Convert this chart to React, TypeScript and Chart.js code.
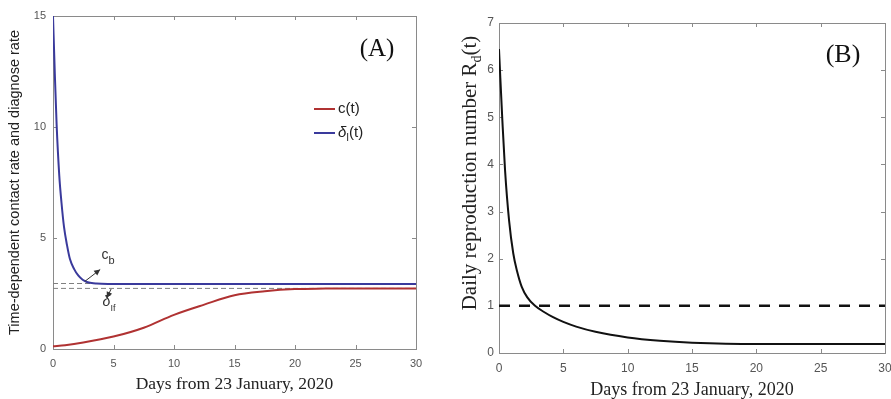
import React, { useEffect, useRef } from 'react';
import { Chart, registerables } from 'chart.js';

Chart.register(...registerables);

// ---------- data ----------
const DAY_MIN = 0;
const DAY_MAX = 30;
const DAY_STEP = 5;

// Panel A: diagnose rate delta_I(t)
const A_BLUE_T = [0, 0.15, 0.3, 0.52, 0.7, 0.91, 1.15, 1.4, 1.75, 2.1, 2.45, 2.8, 3.2, 3.6, 4, 5, 7, 10, 15, 20, 25, 30];
const A_BLUE = [15.0, 12.4, 10.1, 7.8, 6.6, 5.5, 4.7, 4.05, 3.6, 3.3, 3.12, 3.02, 2.97, 2.95, 2.94, 2.93, 2.93, 2.93, 2.93, 2.93, 2.93, 2.93];
// Panel A: contact rate c(t)
const A_RED_T = [0, 1, 2.5, 5, 7.5, 10, 12.5, 15, 17.5, 20, 22.5, 25, 30];
const A_RED = [0.12, 0.17, 0.29, 0.56, 0.96, 1.54, 2.0, 2.42, 2.6, 2.7, 2.72, 2.73, 2.73];
// Panel A: reference levels c_b and delta_If
const A_CB_LEVEL = 2.95;
const A_DIF_LEVEL = 2.73;
const A_Y_MAX = 15;
const A_Y_STEP = 5;

// Panel B: daily reproduction number R_d(t)
const B_T = [0, 0.1, 0.26, 0.47, 0.78, 1.11, 1.4, 1.76, 2.2, 2.8, 3.5, 4.2, 5, 6, 7.5, 10, 12.5, 15, 20, 25, 30];
const B_RD = [6.45, 5.85, 4.94, 3.88, 2.82, 2.11, 1.74, 1.41, 1.18, 1.0, 0.87, 0.76, 0.66, 0.56, 0.45, 0.33, 0.26, 0.22, 0.19, 0.19, 0.19];
const B_THRESHOLD = 1;
const B_Y_MAX = 7;
const B_Y_STEP = 1;

const X_TITLE = 'Days from 23 January, 2020';
const A_Y_TITLE = 'Time-dependent contact rate and diagnose rate';

// ---------- styles ----------
const SANS = '"Liberation Sans", Arial, Helvetica, sans-serif';
const SERIF = '"Liberation Serif", "Times New Roman", Times, serif';
const AXIS_COLOR = '#8a8a8a';
const TICK_TEXT = '#555';
const TITLE_TEXT = '#222';
const RED = '#b03232';
const BLUE = '#3a3a9c';

const pts = (xs: number[], ys: number[]) => xs.map((x, i) => ({ x, y: ys[i] }));

type Part = { text: string; font: string; dy?: number };
function drawParts(ctx: CanvasRenderingContext2D, parts: Part[], x: number, y: number, align: 'left' | 'center' = 'left') {
  let total = 0;
  for (const p of parts) {
    ctx.font = p.font;
    total += ctx.measureText(p.text).width;
  }
  let cx = align === 'center' ? x - total / 2 : x;
  ctx.textAlign = 'left';
  ctx.textBaseline = 'middle';
  for (const p of parts) {
    ctx.font = p.font;
    ctx.fillText(p.text, cx, y + (p.dy || 0));
    cx += ctx.measureText(p.text).width;
  }
}

function arrow(ctx: CanvasRenderingContext2D, x1: number, y1: number, x2: number, y2: number) {
  ctx.beginPath();
  ctx.moveTo(x1, y1);
  ctx.lineTo(x2, y2);
  ctx.stroke();
  const ang = Math.atan2(y2 - y1, x2 - x1);
  const L = 6, W = 3;
  ctx.beginPath();
  ctx.moveTo(x2, y2);
  ctx.lineTo(x2 - L * Math.cos(ang) + W * Math.sin(ang), y2 - L * Math.sin(ang) - W * Math.cos(ang));
  ctx.lineTo(x2 - L * Math.cos(ang) - W * Math.sin(ang), y2 - L * Math.sin(ang) + W * Math.cos(ang));
  ctx.closePath();
  ctx.fill();
}

const boxPlugin = {
  id: 'matlabBox',
  beforeDatasetsDraw(chart: any) {
    const { ctx, chartArea: a, scales } = chart;
    ctx.save();
    ctx.strokeStyle = AXIS_COLOR;
    ctx.lineWidth = 1;
    ctx.strokeRect(Math.round(a.left) + 0.5, Math.round(a.top) + 0.5, Math.round(a.right - a.left), Math.round(a.bottom - a.top));
    const L = 4;
    ctx.beginPath();
    for (const t of scales.x.ticks) {
      const px = Math.round(scales.x.getPixelForValue(t.value)) + 0.5;
      ctx.moveTo(px, a.bottom); ctx.lineTo(px, a.bottom - L);
      ctx.moveTo(px, a.top); ctx.lineTo(px, a.top + L);
    }
    for (const t of scales.y.ticks) {
      const py = Math.round(scales.y.getPixelForValue(t.value)) + 0.5;
      ctx.moveTo(a.left, py); ctx.lineTo(a.left + L, py);
      ctx.moveTo(a.right, py); ctx.lineTo(a.right - L, py);
    }
    ctx.stroke();
    ctx.restore();
  },
};

const panelAPlugin = {
  id: 'panelA',
  afterDraw(chart: any) {
    const { ctx, chartArea: a, scales } = chart;
    const X = (v: number) => scales.x.getPixelForValue(v);
    const Y = (v: number) => scales.y.getPixelForValue(v);
    ctx.save();
    ctx.fillStyle = '#111';
    // panel label
    ctx.font = `25px ${SERIF}`;
    ctx.textAlign = 'center';
    ctx.textBaseline = 'middle';
    ctx.fillText('(A)', a.right - 39, a.top + 33);
    // legend
    const lx = a.left + 261, ly1 = a.top + 93, ly2 = a.top + 117;
    ctx.lineWidth = 2;
    ctx.strokeStyle = RED;
    ctx.beginPath(); ctx.moveTo(lx, ly1); ctx.lineTo(lx + 21, ly1); ctx.stroke();
    ctx.strokeStyle = BLUE;
    ctx.beginPath(); ctx.moveTo(lx, ly2); ctx.lineTo(lx + 21, ly2); ctx.stroke();
    ctx.fillStyle = '#222';
    drawParts(ctx, [{ text: 'c(t)', font: `15px ${SANS}` }], lx + 24, ly1);
    drawParts(ctx, [
      { text: 'δ', font: `italic 15px ${SANS}` },
      { text: 'I', font: `10px ${SANS}`, dy: 5 },
      { text: '(t)', font: `15px ${SANS}` },
    ], lx + 24, ly2);
    // annotations
    ctx.strokeStyle = '#333';
    ctx.fillStyle = '#333';
    ctx.lineWidth = 1;
    arrow(ctx, X(2.64), Y(3.05), X(3.9), Y(3.58));
    drawParts(ctx, [
      { text: 'c', font: `14px ${SANS}` },
      { text: 'b', font: `11px ${SANS}`, dy: 6 },
    ], X(4.0), Y(4.25));
    arrow(ctx, X(4.8), Y(2.7), X(4.45), Y(2.3));
    drawParts(ctx, [
      { text: 'δ', font: `italic 14px ${SANS}` },
      { text: 'If', font: `9px ${SANS}`, dy: 6 },
    ], X(4.1), Y(2.1));
    ctx.restore();
  },
};

const panelBPlugin = {
  id: 'panelB',
  afterDraw(chart: any) {
    const { ctx, chartArea: a } = chart;
    ctx.save();
    ctx.fillStyle = '#111';
    ctx.font = `26px ${SERIF}`;
    ctx.textAlign = 'center';
    ctx.textBaseline = 'middle';
    ctx.fillText('(B)', a.right - 42, a.top + 32);
    // y title with subscript
    ctx.fillStyle = TITLE_TEXT;
    ctx.translate(30, (a.top + a.bottom) / 2 - 15);
    ctx.rotate(-Math.PI / 2);
    drawParts(ctx, [
      { text: 'Daily reproduction number R', font: `21px ${SERIF}` },
      { text: 'd', font: `14px ${SERIF}`, dy: 7 },
      { text: '(t)', font: `21px ${SERIF}` },
    ], 0, 0, 'center');
    ctx.restore();
  },
};

function xScale(titlePadBottom: number, height: number, tickSize: number, titleSize: number) {
  return {
    type: 'linear',
    min: DAY_MIN,
    max: DAY_MAX,
    grid: { display: false, drawTicks: false },
    border: { display: false },
    ticks: { stepSize: DAY_STEP, padding: 8, color: TICK_TEXT, font: { family: SANS, size: tickSize }, maxRotation: 0 },
    title: { display: true, text: X_TITLE, color: TITLE_TEXT, font: { family: SERIF, size: titleSize, lineHeight: 1 }, padding: { top: 0, bottom: titlePadBottom } },
    afterFit: (s: any) => { s.height = height; },
  };
}

export default function App() {
  const refA = useRef<HTMLCanvasElement>(null);
  const refB = useRef<HTMLCanvasElement>(null);

  useEffect(() => {
    const chartA = new Chart(refA.current!, {
      type: 'line',
      data: {
        datasets: [
          { label: 'c(t)', data: pts(A_RED_T, A_RED), borderColor: RED, borderWidth: 2, pointRadius: 0, cubicInterpolationMode: 'monotone', order: 1 },
          { label: 'δI(t)', data: pts(A_BLUE_T, A_BLUE), borderColor: BLUE, borderWidth: 2, pointRadius: 0, cubicInterpolationMode: 'monotone', order: 0 },
          { label: 'cb', data: pts([DAY_MIN, DAY_MAX], [A_CB_LEVEL, A_CB_LEVEL]), borderColor: '#808080', borderWidth: 1, borderDash: [5, 3], pointRadius: 0, order: 3 },
          { label: 'δIf', data: pts([DAY_MIN, DAY_MAX], [A_DIF_LEVEL, A_DIF_LEVEL]), borderColor: '#808080', borderWidth: 1, borderDash: [5, 3], pointRadius: 0, order: 2 },
        ],
      } as any,
      options: {
        animation: false,
        responsive: false,
        events: [],
        layout: { padding: { left: 0, right: 24, top: 16, bottom: 0 } },
        plugins: { legend: { display: false }, tooltip: { enabled: false } },
        scales: {
          x: xScale(6, 50, 11, 17.5) as any,
          y: {
            type: 'linear',
            min: 0,
            max: A_Y_MAX,
            grid: { display: false, drawTicks: false },
            border: { display: false },
            ticks: { stepSize: A_Y_STEP, padding: 7, color: TICK_TEXT, font: { family: SANS, size: 11 } },
            title: { display: true, text: A_Y_TITLE, color: TITLE_TEXT, font: { family: SANS, size: 14.5, lineHeight: 1.1 }, padding: { top: 7, bottom: 0 } },
            afterFit: (s: any) => { s.width = 53; },
          } as any,
        },
      },
      plugins: [boxPlugin, panelAPlugin],
    });

    const chartB = new Chart(refB.current!, {
      type: 'line',
      data: {
        datasets: [
          { label: 'Rd(t)', data: pts(B_T, B_RD), borderColor: '#111', borderWidth: 2, pointRadius: 0, cubicInterpolationMode: 'monotone', order: 0 },
          { label: 'threshold', data: pts([DAY_MIN, DAY_MAX], [B_THRESHOLD, B_THRESHOLD]), borderColor: '#111', borderWidth: 2.5, borderDash: [11, 9], pointRadius: 0, order: 1 },
        ],
      } as any,
      options: {
        animation: false,
        responsive: false,
        events: [],
        layout: { padding: { left: 0, right: 15, top: 23, bottom: 0 } },
        plugins: { legend: { display: false }, tooltip: { enabled: false } },
        scales: {
          x: xScale(0, 46, 12, 18) as any,
          y: {
            type: 'linear',
            min: 0,
            max: B_Y_MAX,
            grid: { display: false, drawTicks: false },
            border: { display: false },
            ticks: { stepSize: B_Y_STEP, padding: 5, color: TICK_TEXT, font: { family: SANS, size: 12 } },
            afterFit: (s: any) => { s.width = 59; },
          } as any,
        },
      },
      plugins: [boxPlugin, panelBPlugin],
    });

    return () => { chartA.destroy(); chartB.destroy(); };
  }, []);

  return (
    <div style={{ position: 'absolute', left: 0, top: 0, width: 891, height: 399, overflow: 'hidden', background: '#fff' }}>
      <canvas ref={refA} width={440} height={399} style={{ position: 'absolute', left: 0, top: 0, width: 440, height: 399, display: 'block' }} />
      <canvas ref={refB} width={460} height={399} style={{ position: 'absolute', left: 440, top: 0, width: 460, height: 399, display: 'block' }} />
    </div>
  );
}
